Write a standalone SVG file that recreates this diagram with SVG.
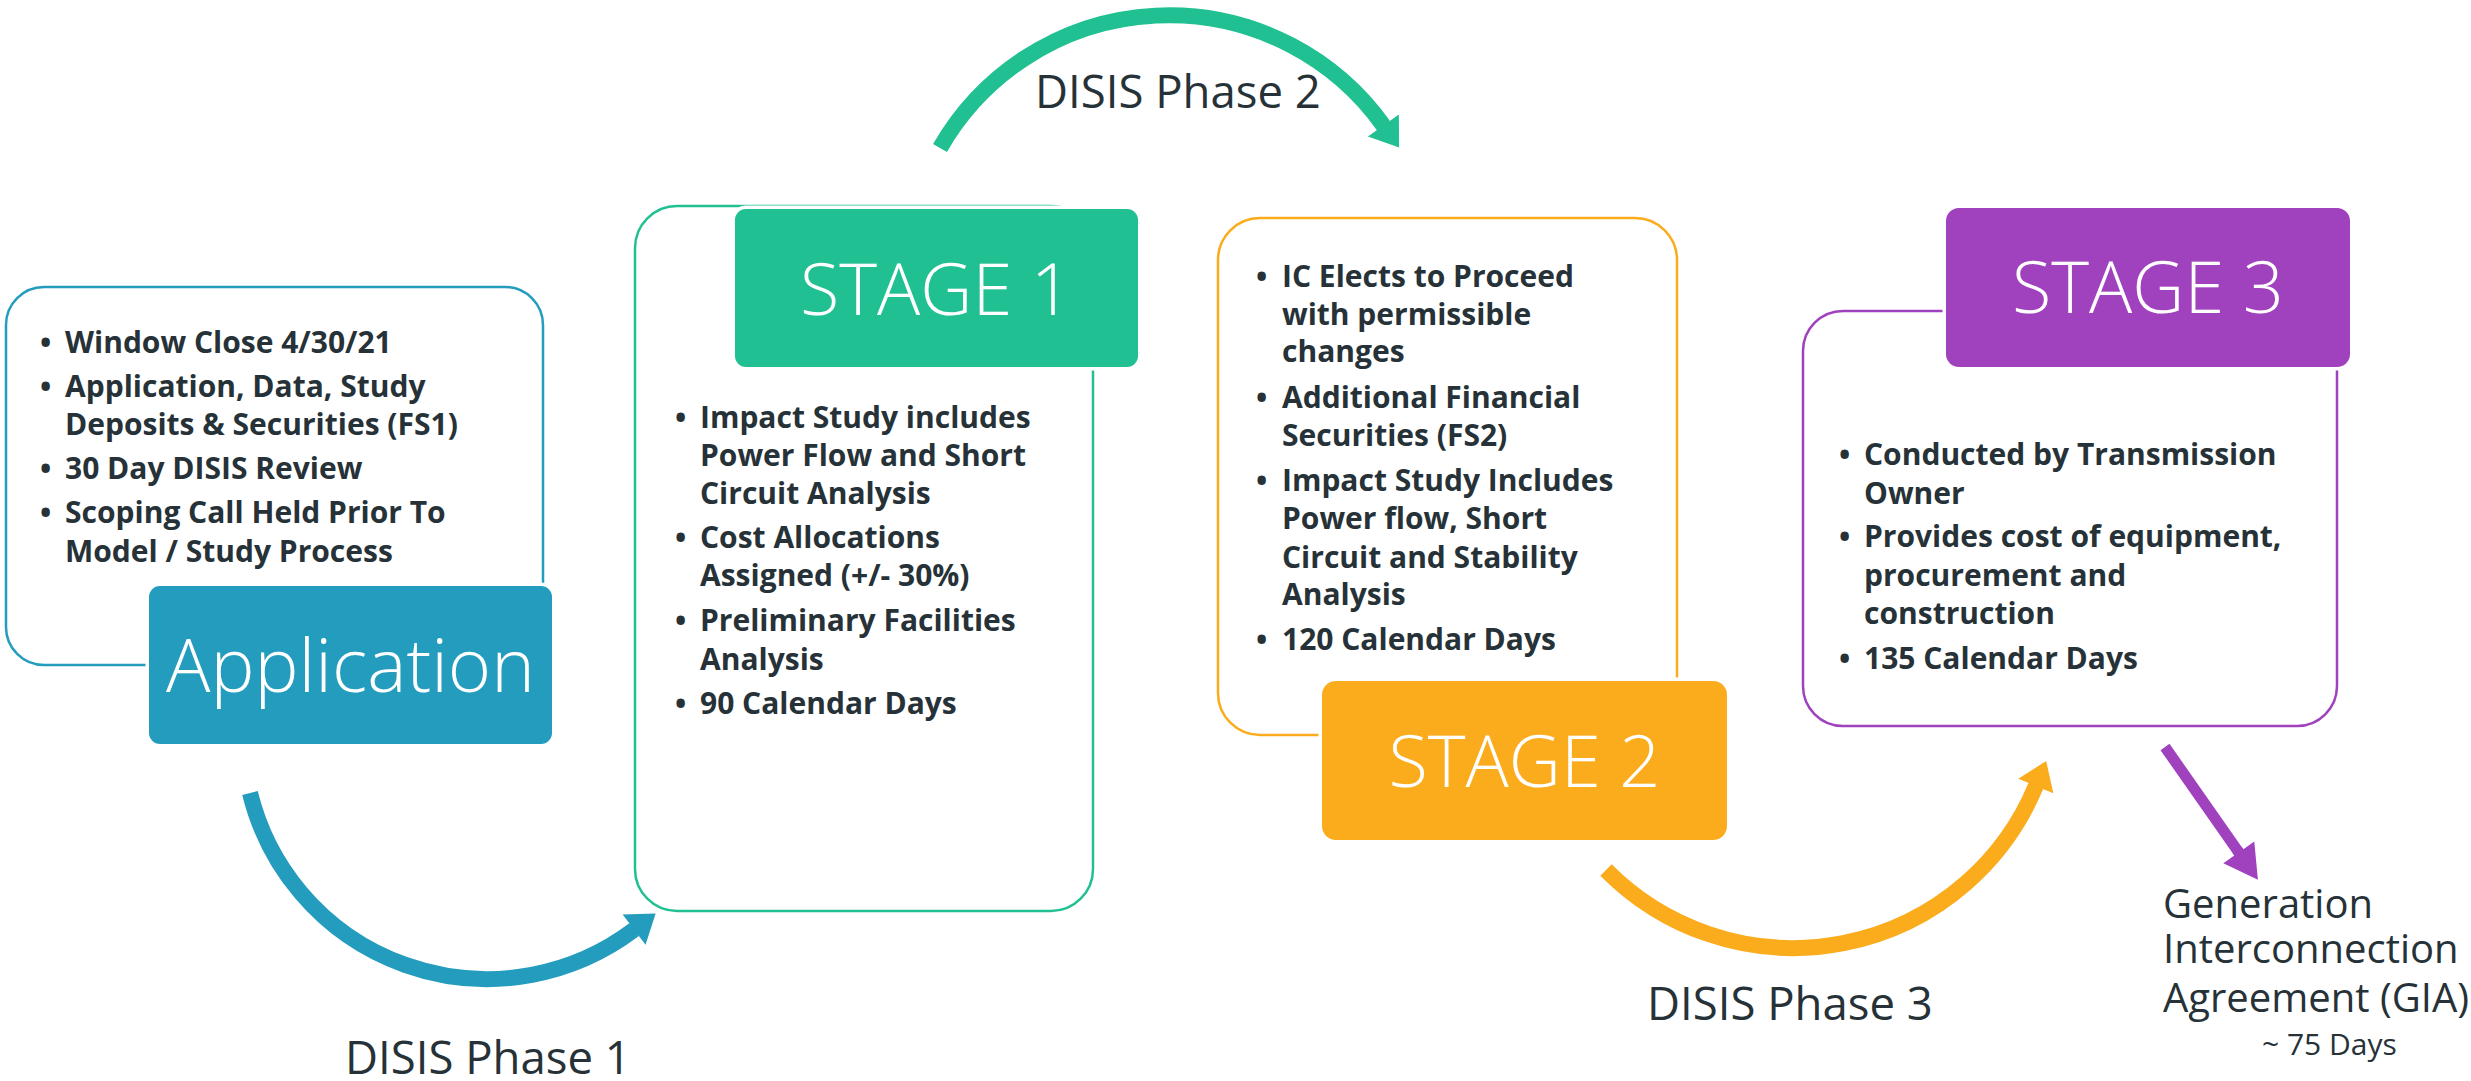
<svg xmlns="http://www.w3.org/2000/svg" width="2471" height="1081" viewBox="0 0 2471 1081">
  <style>
    .bul { font-family: "Open Sans", "Noto Sans", "Liberation Sans", sans-serif; font-weight: 700; font-size: 30px; fill: #263238; }
    .big { font-family: "Open Sans", "Noto Sans", "Liberation Sans", sans-serif; font-weight: 300; font-size: 72px; fill: #ffffff; text-anchor: middle; }
    .lbl { font-family: "Open Sans", "Noto Sans", "Liberation Sans", sans-serif; font-weight: 400; font-size: 45.5px; fill: #263238; }
    .gia { font-family: "Open Sans", "Noto Sans", "Liberation Sans", sans-serif; font-weight: 400; font-size: 40px; fill: #263238; }
    .days { font-family: "Open Sans", "Noto Sans", "Liberation Sans", sans-serif; font-weight: 400; font-size: 30px; fill: #263238; }
    .outline { fill: #ffffff; stroke-width: 2.5; }
    .head { stroke: #ffffff; stroke-width: 7; paint-order: stroke; }
    .arc { fill: none; stroke-width: 16; stroke-linecap: butt; }
  </style>
  <defs>
    <marker id="hBlue" markerUnits="userSpaceOnUse" markerWidth="40" markerHeight="40" refX="0" refY="0" viewBox="-4 -20 32 40" orient="auto" overflow="visible">
      <path d="M0,-19 L27,0 L0,19 L0,7 L-3,7 L-3,-7 L0,-7 Z" fill="#249CBE"/>
    </marker>
    <marker id="hGreen" markerUnits="userSpaceOnUse" markerWidth="40" markerHeight="40" refX="0" refY="0" viewBox="-4 -20 32 40" orient="auto" overflow="visible">
      <path d="M0,-19 L27,0 L0,19 L0,7 L-3,7 L-3,-7 L0,-7 Z" fill="#21C092"/>
    </marker>
    <marker id="hOrange" markerUnits="userSpaceOnUse" markerWidth="40" markerHeight="40" refX="0" refY="0" viewBox="-4 -20 32 40" orient="auto" overflow="visible">
      <path d="M0,-19 L27,0 L0,19 L0,7 L-3,7 L-3,-7 L0,-7 Z" fill="#FAAC1C"/>
    </marker>
    <marker id="hPurple" markerUnits="userSpaceOnUse" markerWidth="40" markerHeight="40" refX="0" refY="0" viewBox="-4 -18 36 36" orient="auto" overflow="visible">
      <path d="M0,-17 L30,0 L0,17 L0,5 L-3,5 L-3,-5 L0,-5 Z" fill="#A041BE"/>
    </marker>
  </defs>

  <rect x="0" y="0" width="2471" height="1081" fill="#ffffff"/>

  <g id="application">
    <rect class="outline" x="6" y="287" width="537" height="378" rx="38" ry="38" stroke="#249CBE"/>
    <g class="bul">
      <text x="40" y="353">•</text>
      <text x="65" y="353">Window Close 4/30/21</text>
      <text x="40" y="397">•</text>
      <text x="65" y="397">Application, Data, Study</text>
      <text x="65" y="435">Deposits &amp; Securities (FS1)</text>
      <text x="40" y="479">•</text>
      <text x="65" y="479">30 Day DISIS Review</text>
      <text x="40" y="523">•</text>
      <text x="65" y="523">Scoping Call Held Prior To</text>
      <text x="65" y="562">Model / Study Process</text>
    </g>
    <rect class="head" x="149" y="586" width="403" height="158" rx="11" ry="11" fill="#249CBE"/>
    <text class="big" x="350.5" y="692" style="font-size:74px">Application</text>
  </g>

  <g id="stage1">
    <rect class="outline" x="635" y="206" width="458" height="705" rx="42" ry="42" stroke="#21C092"/>
    <rect class="head" x="735" y="209" width="403" height="158" rx="11" ry="11" fill="#21C092"/>
    <text class="big" x="936" y="315">STAGE 1</text>
    <g class="bul">
      <text x="675" y="428">•</text>
      <text x="700" y="428">Impact Study includes</text>
      <text x="700" y="466">Power Flow and Short</text>
      <text x="700" y="504">Circuit Analysis</text>
      <text x="675" y="548">•</text>
      <text x="700" y="548">Cost Allocations</text>
      <text x="700" y="586">Assigned (+/- 30%)</text>
      <text x="675" y="631">•</text>
      <text x="700" y="631">Preliminary Facilities</text>
      <text x="700" y="670">Analysis</text>
      <text x="675" y="714">•</text>
      <text x="700" y="714">90 Calendar Days</text>
    </g>
  </g>

  <g id="stage2">
    <rect class="outline" x="1218" y="218" width="459" height="517" rx="42" ry="42" stroke="#FAAC1C"/>
    <g class="bul">
      <text x="1256" y="287">•</text>
      <text x="1282" y="287">IC Elects to Proceed</text>
      <text x="1282" y="325">with permissible</text>
      <text x="1282" y="362">changes</text>
      <text x="1256" y="408">•</text>
      <text x="1282" y="408">Additional Financial</text>
      <text x="1282" y="446">Securities (FS2)</text>
      <text x="1256" y="491">•</text>
      <text x="1282" y="491">Impact Study Includes</text>
      <text x="1282" y="529">Power flow, Short</text>
      <text x="1282" y="568">Circuit and Stability</text>
      <text x="1282" y="605">Analysis</text>
      <text x="1256" y="650">•</text>
      <text x="1282" y="650">120 Calendar Days</text>
    </g>
    <rect class="head" x="1322" y="681" width="405" height="159" rx="14" ry="14" fill="#FAAC1C"/>
    <text class="big" x="1524.5" y="787">STAGE 2</text>
  </g>

  <g id="stage3">
    <rect class="outline" x="1803" y="311" width="534" height="415" rx="40" ry="40" stroke="#A041BE"/>
    <rect class="head" x="1946" y="208" width="404" height="159" rx="13" ry="13" fill="#A041BE"/>
    <text class="big" x="2148" y="313">STAGE 3</text>
    <g class="bul">
      <text x="1839" y="465">•</text>
      <text x="1864" y="465">Conducted by Transmission</text>
      <text x="1864" y="504">Owner</text>
      <text x="1839" y="547">•</text>
      <text x="1864" y="547">Provides cost of equipment,</text>
      <text x="1864" y="586">procurement and</text>
      <text x="1864" y="624">construction</text>
      <text x="1839" y="669">•</text>
      <text x="1864" y="669">135 Calendar Days</text>
    </g>
  </g>

  <g id="gia">
    <text class="gia" x="2163" y="918">Generation</text>
    <text class="gia" x="2163" y="963">Interconnection</text>
    <text class="gia" x="2163" y="1012">Agreement (GIA)</text>
    <text class="days" x="2262" y="1055">~ 75 Days</text>
  </g>

  <g id="connectors">
    <path class="arc" d="M 250 793 A 244 244 0 0 0 634.1 929.7" stroke="#249CBE" marker-end="url(#hBlue)"/>
    <path class="arc" d="M 940 148 A 263.8 263.8 0 0 1 1383.4 125.5" stroke="#21C092" marker-end="url(#hGreen)"/>
    <path class="arc" d="M 1606 870 A 263 263 0 0 0 2035.8 786" stroke="#FAAC1C" marker-end="url(#hOrange)"/>
    <path d="M 2165 747 L 2238.8 852.4" fill="none" stroke="#A041BE" stroke-width="11" marker-end="url(#hPurple)"/>
    <text class="lbl" x="345" y="1074">DISIS Phase 1</text>
    <text class="lbl" x="1035" y="108">DISIS Phase 2</text>
    <text class="lbl" x="1647" y="1020">DISIS Phase 3</text>
  </g>
</svg>
